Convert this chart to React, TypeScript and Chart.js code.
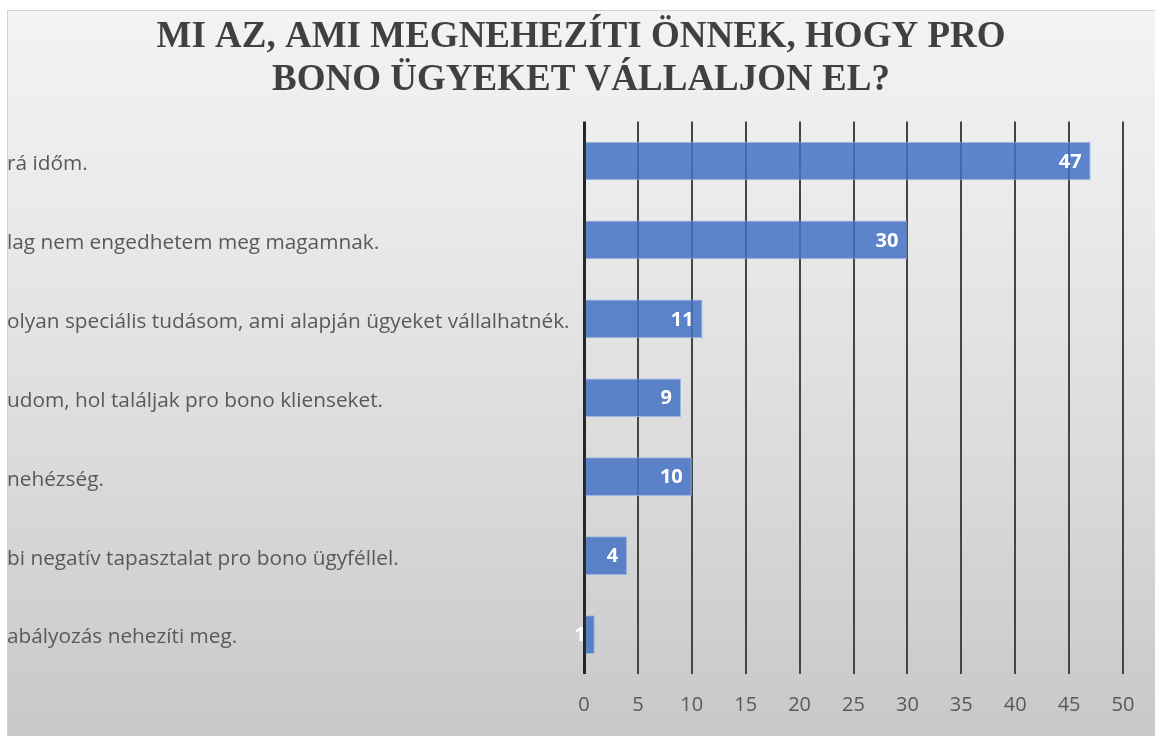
import React, { useEffect, useRef } from "react";
import { Chart, registerables } from "chart.js";

Chart.register(...registerables);

const titleLines = ["MI AZ, AMI MEGNEHEZÍTI ÖNNEK, HOGY PRO", "BONO ÜGYEKET VÁLLALJON EL?"];

const categories = [
  "rá időm.",
  "lag nem engedhetem meg magamnak.",
  "olyan speciális tudásom, ami alapján ügyeket vállalhatnék.",
  "udom, hol találjak pro bono klienseket.",
  "nehézség.",
  "bi negatív tapasztalat pro bono ügyféllel.",
  "abályozás nehezíti meg.",
];

const values = [47, 30, 11, 9, 10, 4, 1];

const xMin = 0;
const xMax = 50;
const xStep = 5;

const SANS = '"Open Sans", "Noto Sans", sans-serif';

const valueLabels = {
  id: "valueLabels",
  afterDatasetsDraw(chart: any) {
    const ctx = chart.ctx;
    const meta = chart.getDatasetMeta(0);
    ctx.save();
    ctx.font = `bold 20px ${SANS}`;
    ctx.fillStyle = "#ffffff";
    ctx.textAlign = "right";
    ctx.textBaseline = "middle";
    meta.data.forEach((bar: any, i: number) => {
      ctx.fillText(String(values[i]), bar.x - 9, bar.y + 1);
    });
    ctx.restore();
  },
};

export default function App() {
  const canvasRef = useRef<HTMLCanvasElement | null>(null);

  useEffect(() => {
    const canvas = canvasRef.current;
    if (!canvas) return;
    const chart = new Chart(canvas, {
      type: "bar",
      data: {
        labels: categories,
        datasets: [
          {
            data: values,
            yAxisID: "y",
            backgroundColor: "rgba(68,114,196,0.85)",
            borderColor: "rgba(150,178,225,0.9)",
            borderWidth: 1,
            barPercentage: 0.49,
            categoryPercentage: 1,
          },
        ],
      },
      options: {
        indexAxis: "y",
        animation: false,
        responsive: false,
        layout: { padding: { left: 0, right: 0, top: 0, bottom: 0 } },
        plugins: {
          legend: { display: false },
          tooltip: { enabled: false },
          title: {
            display: true,
            text: titleLines,
            color: "#404040",
            font: {
              family: '"Liberation Serif", "Times New Roman", serif',
              size: 37,
              weight: "bold",
              lineHeight: 1.17,
            },
            padding: { top: 6, bottom: 19 },
          },
        },
        scales: {
          x: {
            min: xMin,
            max: xMax,
            ticks: {
              stepSize: xStep,
              color: "#595959",
              font: { family: SANS, size: 20 },
              padding: 19,
            },
            grid: {
              drawTicks: false,
              color: (c: any) => (c.tick && c.tick.value === 0 ? "#262626" : "#454545"),
              lineWidth: (c: any) => (c.tick && c.tick.value === 0 ? 3 : 2),
            },
            border: { display: false },
          },
          y: {
            grid: { display: false, drawTicks: false },
            border: { display: false },
            ticks: {
              crossAlign: "far",
              color: "#595959",
              font: { family: SANS, size: 20.8 },
              padding: 0,
              labelOffset: 3,
            },
            afterFit: (s: any) => {
              s.width = 577;
            },
          },
          yRight: {
            type: "category",
            position: "right",
            display: true,
            grid: { display: false, drawTicks: false },
            border: { display: false },
            ticks: { display: false },
            afterFit: (s: any) => {
              s.width = 32;
            },
          },
        },
      } as any,
      plugins: [valueLabels],
    });
    return () => chart.destroy();
  }, []);

  return (
    <div
      style={{
        position: "fixed",
        left: 7,
        top: 10,
        width: 1148,
        height: 726,
        background: "linear-gradient(to bottom, #f3f3f3 0%, #ebebeb 25%, #dcdcdc 60%, #c8c8c8 100%)",
        boxShadow: "inset 1px 1px 0 #d2d2d2",
      }}
    >
      <canvas ref={canvasRef} width={1148} height={726} style={{ display: "block" }} />
    </div>
  );
}
